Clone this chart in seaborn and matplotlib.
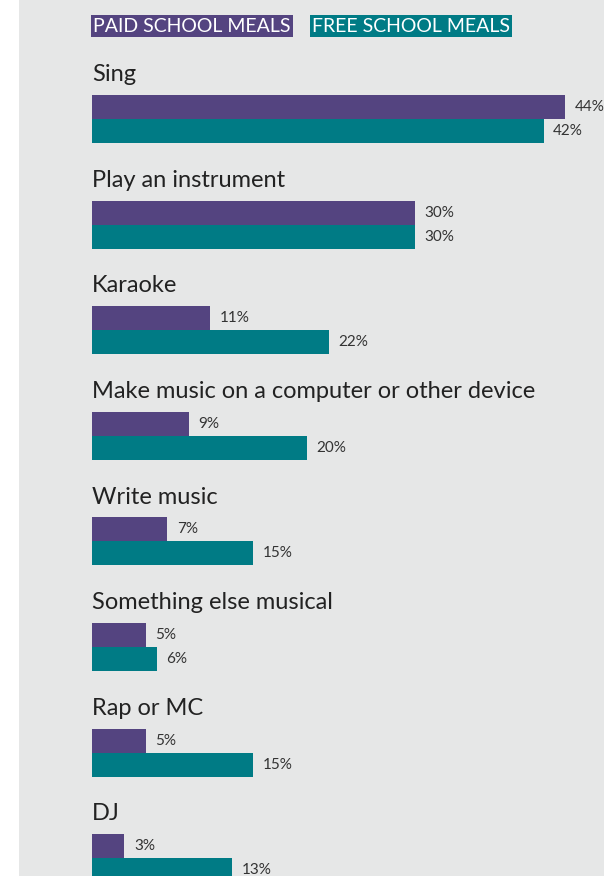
import matplotlib
matplotlib.use("Agg")
import matplotlib.pyplot as plt
import seaborn as sns
import pandas as pd
from matplotlib.patches import Rectangle

categories = ["Sing", "Play an instrument", "Karaoke",
              "Make music on a computer or other device", "Write music",
              "Something else musical", "Rap or MC", "DJ"]
paid = [44, 30, 11, 9, 7, 5, 5, 3]
free = [42, 30, 22, 20, 15, 6, 15, 13]
series = ["PAID SCHOOL MEALS", "FREE SCHOOL MEALS"]
colors = ["#544480", "#007b85"]

df = pd.DataFrame({
    "category": categories * 2,
    "value": paid + free,
    "group": [series[0]] * len(categories) + [series[1]] * len(categories),
})

sns.set_theme(style="white")
plt.rcParams["font.family"] = ["Lato", "DejaVu Sans"]

W, H = 604, 876
fig = plt.figure(figsize=(W / 100, H / 100), dpi=100)
fig.patch.set_facecolor("#e6e7e7")
fig.add_artist(Rectangle((0, 0), 19 / W, 1, transform=fig.transFigure,
                         facecolor="white", edgecolor="none", zorder=0))

left = 92
ax = fig.add_axes([left / W, 0, (W - left) / W, 1])
ax.set_facecolor("none")
sns.barplot(data=df, y="category", x="value", hue="group", order=categories,
            hue_order=series, palette=colors, orient="h", width=0.4545,
            dodge=True, ax=ax, legend=False, saturation=1, linewidth=0)

px_per_unit = 10.75
ax.set_xlim(0, (W - left) / px_per_unit)
pitch = 105.6
c0 = 119
ax.set_ylim((H - c0) / pitch, -c0 / pitch)
ax.axis("off")

half = 0.4545 / 2
for i, cat in enumerate(categories):
    ax.text(0, i - half - 0.13, cat, fontsize=17, color="#222222",
            va="baseline", ha="left")

for cont in ax.containers:
    for bar in cont:
        w = bar.get_width()
        yc = bar.get_y() + bar.get_height() / 2
        ax.text(w + 0.9, yc, f"{w:.0f}%", fontsize=11, color="#333333",
                va="center", ha="left")

fig.text(93 / W, 1 - 26 / H, series[0], fontsize=14, color="white",
         va="center", ha="left",
         bbox=dict(facecolor=colors[0], edgecolor="none", pad=1.5))
fig.text(312 / W, 1 - 26 / H, series[1], fontsize=14, color="white",
         va="center", ha="left",
         bbox=dict(facecolor=colors[1], edgecolor="none", pad=1.5))

fig.savefig("out.png", dpi=100, facecolor=fig.get_facecolor())
